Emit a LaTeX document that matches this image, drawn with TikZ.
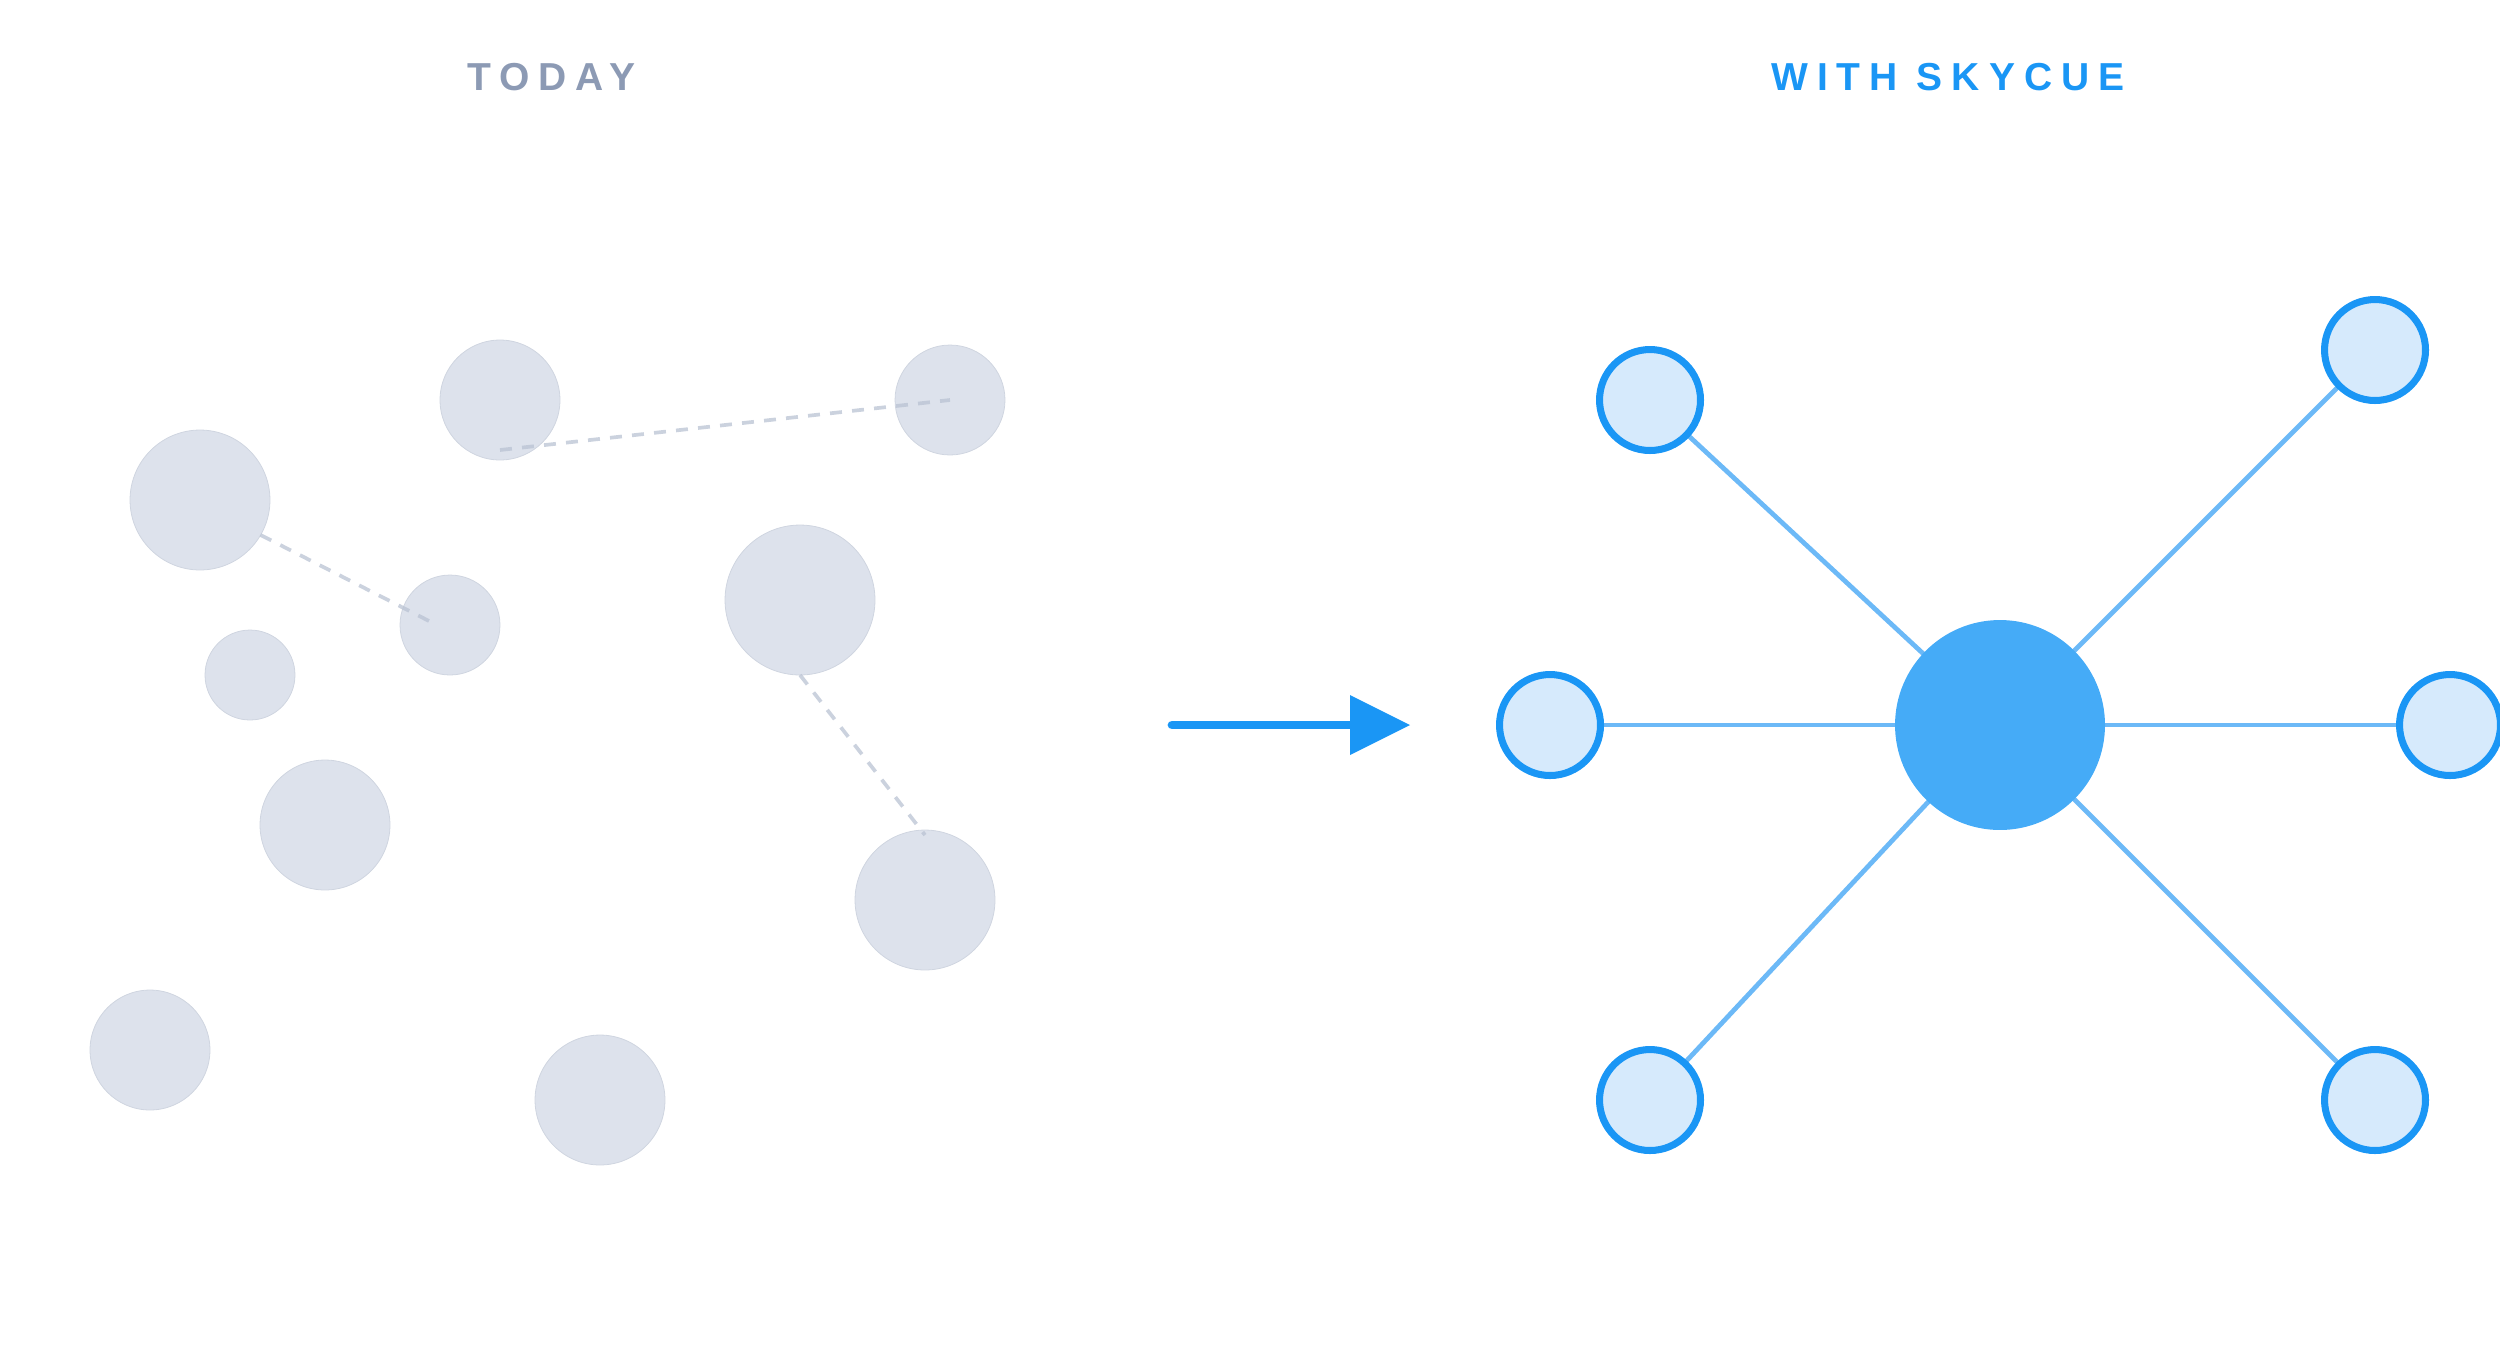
\documentclass[tikz,border=0pt]{standalone}
\usepackage{fontspec}
\newfontfamily\titlefont[LetterSpace=23]{Liberation Sans}
\definecolor{grayfill}{HTML}{DDE2EC}
\definecolor{graydraw}{HTML}{CFD5E0}
\definecolor{dashcol}{HTML}{BAC3D3}
\definecolor{todaycol}{HTML}{8C9AB4}
\definecolor{skyblue}{HTML}{1A96F5}
\definecolor{hubblue}{HTML}{45ABF7}
\definecolor{spokeblue}{HTML}{6CB9F7}
\definecolor{leaffill}{HTML}{D6EAFC}
\tikzset{
  blob/.style={circle, fill=grayfill, draw=graydraw, line width=0.45pt, inner sep=0pt, outer sep=0pt, minimum size=#1*0.04cm},
  dashline/.style={draw=dashcol, opacity=0.75, line width=2.1pt, dash pattern=on 6.8pt off 5.8pt},
  leaf/.style={circle, fill=leaffill, draw=skyblue, line width=4pt, inner sep=0pt, outer sep=0pt, minimum size=2.02cm},
  hubnode/.style={circle, fill=hubblue, inner sep=0pt, outer sep=0pt, minimum size=4.2cm},
  spoke/.style={draw=spokeblue, line width=2.7pt},
  titletext/.style={anchor=base west, inner sep=0pt, font=\titlefont\bfseries\fontsize{22.2}{26}\selectfont}
}
\begin{document}
\begin{tikzpicture}[x=0.02cm, y=-0.02cm]
\useasboundingbox (0,0) rectangle (2500,1350);
% titles
\node[titletext, text=todaycol] (ttoday) at (467,90) {TODAY};
\node[titletext, text=skyblue] (tsky) at (1771,90) {WITH\hspace{0.38cm}SKYCUE};
% left cluster
\node[blob=70] (c1) at (200,500) {};
\node[blob=60] (c2) at (500,400) {};
\node[blob=55] (c3) at (950,400) {};
\node[blob=50] (c4) at (450,625) {};
\node[blob=45] (c5) at (250,675) {};
\node[blob=75] (c6) at (800,600) {};
\node[blob=65] (c7) at (325,825) {};
\node[blob=70] (c8) at (925,900) {};
\node[blob=60] (c9) at (150,1050) {};
\node[blob=65] (c10) at (600,1100) {};
\draw[dashline] ([yshift=-1cm]c2.center) -- (c3.center);
\draw[dashline] (c1.-30) -- ([xshift=-0.38cm,yshift=0.06cm]c4.center);
\draw[dashline] (c6.south) -- ([yshift=-0.1cm]c8.north);
% arrow
\coordinate (arS) at (1172,725);
\coordinate (arB) at (1350,725);
\coordinate (arT) at (1410,725);
\draw[skyblue, line width=5pt, line cap=round] (arS) -- (arB);
\fill[skyblue] (arT) -- ([yshift=0.6cm]arB) -- ([yshift=-0.6cm]arB) -- cycle;
% hub and spokes
\coordinate (hubc) at (2000,725);
\coordinate (ltl) at (1650,400);
\coordinate (ltr) at (2375,350);
\coordinate (ll) at (1550,725);
\coordinate (lr) at (2450,725);
\coordinate (lbl) at (1650,1100);
\coordinate (lbr) at (2375,1100);
\foreach \p in {ltl,ltr,ll,lr,lbl,lbr} \draw[spoke] (hubc) -- (\p);
\node[hubnode] (hub) at (hubc) {};
\node[leaf] (ntl) at (ltl) {};
\node[leaf] (ntr) at (ltr) {};
\node[leaf] (nl) at (ll) {};
\node[leaf] (nr) at (lr) {};
\node[leaf] (nbl) at (lbl) {};
\node[leaf] (nbr) at (lbr) {};
\end{tikzpicture}
\end{document}
